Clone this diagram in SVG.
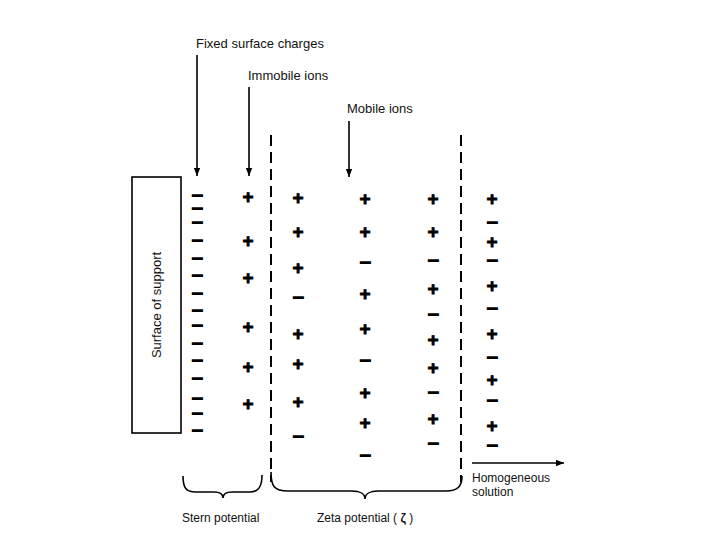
<svg xmlns="http://www.w3.org/2000/svg" width="720" height="540" viewBox="0 0 720 540">
<defs>
<style>
.lbl{font-family:"Liberation Sans",Arial,sans-serif;font-size:13px;fill:#111}
.sm{font-family:"Liberation Sans",Arial,sans-serif;font-size:12px;fill:#111}
.p{font-family:"Liberation Sans",Arial,sans-serif;font-size:19px;font-weight:bold;fill:#000;stroke:#000;stroke-width:0.8;text-anchor:middle}
.m{font-family:"Liberation Sans",Arial,sans-serif;font-size:10.5px;font-weight:bold;fill:#000;stroke:#000;stroke-width:1.6;text-anchor:middle}
.ln{stroke:#000;stroke-width:1.6;fill:none}
.dash{stroke:#000;stroke-width:2;stroke-dasharray:11 6;fill:none}
.brace{stroke:#000;stroke-width:1.6;fill:none}
</style>
<marker id="ah" markerWidth="8" markerHeight="8" viewBox="0 0 10 10" refX="10" refY="5" orient="auto" markerUnits="userSpaceOnUse">
<path d="M0,1 L10,5 L0,9 Z" fill="#000"/>
</marker>
</defs>
<rect width="720" height="540" fill="#fff"/>

<g id="support">
<rect x="132" y="177" width="49" height="256" fill="#fff" stroke="#000" stroke-width="1.6"/>
<text class="lbl" transform="translate(161,305) rotate(-90)" text-anchor="middle">Surface of support</text>
</g>

<g id="label-fixed"><text class="lbl" x="196" y="48">Fixed surface charges</text></g>
<g id="label-immobile"><text class="lbl" x="248" y="80">Immobile ions</text></g>
<g id="label-mobile"><text class="lbl" x="347" y="113">Mobile ions</text></g>

<g id="connectors">
<line class="ln" x1="197" y1="55" x2="197" y2="176" marker-end="url(#ah)"/>
<line class="ln" x1="249" y1="87" x2="249" y2="176" marker-end="url(#ah)"/>
<line class="ln" x1="349" y1="121" x2="349" y2="177" marker-end="url(#ah)"/>
<line class="ln" x1="472" y1="463" x2="564" y2="463" marker-end="url(#ah)"/>
</g>

<g id="boundaries">
<line class="dash" x1="271" y1="135" x2="271" y2="482"/>
<line class="dash" x1="461" y1="135" x2="461" y2="482"/>
</g>

<g id="fixed-charges">
<text class="m" x="197" y="199" textLength="10" lengthAdjust="spacingAndGlyphs">−</text>
<text class="m" x="197" y="212" textLength="10" lengthAdjust="spacingAndGlyphs">−</text>
<text class="m" x="197" y="226" textLength="10" lengthAdjust="spacingAndGlyphs">−</text>
<text class="m" x="197" y="244" textLength="10" lengthAdjust="spacingAndGlyphs">−</text>
<text class="m" x="197" y="262" textLength="10" lengthAdjust="spacingAndGlyphs">−</text>
<text class="m" x="197" y="279" textLength="10" lengthAdjust="spacingAndGlyphs">−</text>
<text class="m" x="197" y="297" textLength="10" lengthAdjust="spacingAndGlyphs">−</text>
<text class="m" x="197" y="314" textLength="10" lengthAdjust="spacingAndGlyphs">−</text>
<text class="m" x="197" y="329" textLength="10" lengthAdjust="spacingAndGlyphs">−</text>
<text class="m" x="197" y="347" textLength="10" lengthAdjust="spacingAndGlyphs">−</text>
<text class="m" x="197" y="364" textLength="10" lengthAdjust="spacingAndGlyphs">−</text>
<text class="m" x="197" y="382" textLength="10" lengthAdjust="spacingAndGlyphs">−</text>
<text class="m" x="197" y="402" textLength="10" lengthAdjust="spacingAndGlyphs">−</text>
<text class="m" x="197" y="417" textLength="10" lengthAdjust="spacingAndGlyphs">−</text>
<text class="m" x="197" y="434" textLength="10" lengthAdjust="spacingAndGlyphs">−</text>
</g>

<g id="immobile-ions">
<text class="p" x="248" y="203">+</text>
<text class="p" x="248" y="247">+</text>
<text class="p" x="248" y="284">+</text>
<text class="p" x="248" y="333">+</text>
<text class="p" x="248" y="373">+</text>
<text class="p" x="248" y="410">+</text>
</g>

<g id="mobile-col1">
<text class="p" x="298" y="204">+</text>
<text class="p" x="298" y="238">+</text>
<text class="p" x="298" y="274">+</text>
<text class="m" x="298" y="301" textLength="10" lengthAdjust="spacingAndGlyphs">−</text>
<text class="p" x="298" y="340">+</text>
<text class="p" x="298" y="370">+</text>
<text class="p" x="298" y="408">+</text>
<text class="m" x="298" y="440" textLength="10" lengthAdjust="spacingAndGlyphs">−</text>
</g>

<g id="mobile-col2">
<text class="p" x="365" y="205">+</text>
<text class="p" x="365" y="238">+</text>
<text class="m" x="365" y="266" textLength="10" lengthAdjust="spacingAndGlyphs">−</text>
<text class="p" x="365" y="300">+</text>
<text class="p" x="365" y="335">+</text>
<text class="m" x="365" y="364" textLength="10" lengthAdjust="spacingAndGlyphs">−</text>
<text class="p" x="365" y="399">+</text>
<text class="p" x="365" y="429">+</text>
<text class="m" x="365" y="459" textLength="10" lengthAdjust="spacingAndGlyphs">−</text>
</g>

<g id="mobile-col3">
<text class="p" x="433" y="205">+</text>
<text class="p" x="433" y="238">+</text>
<text class="m" x="433" y="264" textLength="10" lengthAdjust="spacingAndGlyphs">−</text>
<text class="p" x="433" y="295">+</text>
<text class="m" x="433" y="318" textLength="10" lengthAdjust="spacingAndGlyphs">−</text>
<text class="p" x="433" y="346">+</text>
<text class="p" x="433" y="374">+</text>
<text class="m" x="433" y="396" textLength="10" lengthAdjust="spacingAndGlyphs">−</text>
<text class="p" x="433" y="425">+</text>
<text class="m" x="433" y="447" textLength="10" lengthAdjust="spacingAndGlyphs">−</text>
</g>

<g id="solution-col">
<text class="p" x="492" y="205">+</text>
<text class="m" x="492" y="226" textLength="10" lengthAdjust="spacingAndGlyphs">−</text>
<text class="p" x="492" y="248">+</text>
<text class="m" x="492" y="264" textLength="10" lengthAdjust="spacingAndGlyphs">−</text>
<text class="p" x="492" y="292">+</text>
<text class="m" x="492" y="312" textLength="10" lengthAdjust="spacingAndGlyphs">−</text>
<text class="p" x="492" y="340">+</text>
<text class="m" x="492" y="361" textLength="10" lengthAdjust="spacingAndGlyphs">−</text>
<text class="p" x="492" y="386">+</text>
<text class="m" x="492" y="404" textLength="10" lengthAdjust="spacingAndGlyphs">−</text>
<text class="p" x="492" y="432">+</text>
<text class="m" x="492" y="449" textLength="10" lengthAdjust="spacingAndGlyphs">−</text>
</g>

<g id="homogeneous">
<text class="sm" x="472" y="482">Homogeneous</text>
<text class="sm" x="472" y="496">solution</text>
</g>

<g id="stern">
<path class="brace" d="M183,476 C183,488 186,492 196,492 L214,492 C220,492 223,494 223,498 C223,494 226,492 232,492 L250,492 C259,492 262,486 262,475"/>
<text class="sm" x="182" y="522">Stern potential</text>
</g>

<g id="zeta">
<path class="brace" d="M271,472 C271,486 274,491 288,491 L352,491 C360,491 365,494 365,499 C365,494 370,491 378,491 L446,491 C458,491 462,486 462,476"/>
<text class="sm" x="317" y="522">Zeta potential ( <tspan font-weight="bold">ζ</tspan> )</text>
</g>
</svg>
